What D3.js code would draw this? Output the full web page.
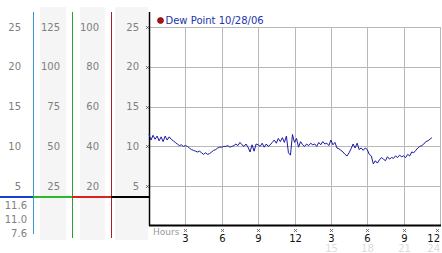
<!DOCTYPE html>
<html><head><meta charset="utf-8">
<script src="https://cdn.jsdelivr.net/npm/d3@7"></script>
<style>body{margin:0;background:#fff}svg{display:block}text{font-family:"DejaVu Sans",Verdana,sans-serif}</style>
</head><body>
<svg id="c" width="442" height="253"></svg>
<script>
// ---- data ----
const seriesName = "Dew Point 10/28/06";
const startHour = 0;
const stepHours = 1/6;
const dewPoint = [
 11.5,10.8,11.4,10.9,11.3,10.7,
 11.2,10.6,11.3,10.8,11.2,10.9,
 10.7,10.5,10.3,10.1,10.2,10.0,
 10.1,10.0,9.8,9.6,9.5,9.4,
 9.3,9.4,9.2,9.0,9.2,9.0,
 9.1,9.3,9.5,9.6,9.8,9.9,
 9.9,10.0,10.0,10.1,9.9,10.0,
 10.1,10.3,10.1,10.5,10.2,10.0,
 10.3,9.9,9.3,10.2,9.4,10.3,
 10.2,10.0,10.4,9.9,10.3,10.0,
 10.2,10.5,10.8,10.4,11.0,10.6,
 11.1,10.5,11.3,9.2,8.9,11.5,
 10.5,11.0,9.9,10.6,10.2,10.0,
 10.3,10.1,10.4,10.2,10.3,10.0,
 10.5,10.2,10.6,10.3,10.4,10.1,
 10.8,10.2,10.5,9.8,9.7,9.5,
 9.3,9.0,8.8,9.2,9.7,10.3,
 9.8,10.4,9.6,9.8,9.5,9.8,
 9.6,9.0,8.8,7.8,8.2,7.9,
 8.3,8.6,8.4,8.2,8.7,8.4,
 8.6,8.5,8.8,8.6,8.9,8.7,
 8.8,8.6,9.0,8.8,9.3,9.2,
 9.5,9.8,10.0,10.1,10.3,10.6,
 10.7,10.9,11.1
];
const yTicks = [25,20,15,10,5];
const col1Labels = ["25","20","15","10","5"];
const col2Labels = ["125","100","75","50","25"];
const col3Labels = ["100","80","60","40","20"];
const col4Labels = ["25","20","15","10","5"];
const statLabels = ["11.6","11.0","7.6"];
const xTicks = [3,6,9,12,15,18,21,24];
const xTickLabels = ["3","6","9","12","3","6","9","12"];
const xFaintLabels = ["","","","","15","18","21","24"];
const xAxisTitle = "Hours";

// ---- drawing ----
const svg = d3.select("#c");
const x = d3.scaleLinear().domain([0,24]).range([149,440]);
const y = d3.scaleLinear().domain([0,25]).range([226,27]);

// gray column backgrounds
const bgs = [[40,26],[80,25],[115,33]];
bgs.forEach(b=>svg.append("rect").attr("x",b[0]).attr("y",7).attr("width",b[1]).attr("height",233).attr("fill","#f5f5f5"));

// column labels
function col(labels, cx, anchor){
  svg.append("g").selectAll("text").data(labels).join("text")
   .attr("x",cx).attr("y",(d,i)=>y(yTicks[i])).attr("dy","0.35em")
   .attr("text-anchor",anchor).attr("font-size",10).attr("fill","#808080").text(d=>d);
}
col(col1Labels,21,"end");
col(col2Labels,60,"end");
col(col3Labels,99,"end");
col(col4Labels,139,"end");
svg.append("g").selectAll("text").data(statLabels).join("text")
  .attr("x",27).attr("y",(d,i)=>205+i*14).attr("dy","0.35em").attr("text-anchor","end")
  .attr("font-size",10).attr("fill","#808080").text(d=>d);

// vertical colored lines
svg.append("line").attr("x1",33.5).attr("x2",33.5).attr("y1",12).attr("y2",234).attr("stroke","#3a9ad0").attr("stroke-width",1);
svg.append("line").attr("x1",72.5).attr("x2",72.5).attr("y1",12).attr("y2",238).attr("stroke","#2f9e2f").attr("stroke-width",1);
svg.append("line").attr("x1",111.5).attr("x2",111.5).attr("y1",12).attr("y2",238).attr("stroke","#a82020").attr("stroke-width",1);

// horizontal colored line
[[0,33,"#1a3fcc"],[33,72,"#2eb82e"],[72,111,"#e02020"],[111,149,"#000"]].forEach(s=>
  svg.append("line").attr("x1",s[0]).attr("x2",s[1]).attr("y1",197).attr("y2",197).attr("stroke",s[2]).attr("stroke-width",2));

// grid
svg.append("g").selectAll("line").data(yTicks).join("line")
  .attr("x1",149).attr("x2",441).attr("y1",d=>Math.round(y(d))+0.5).attr("y2",d=>Math.round(y(d))+0.5)
  .attr("stroke","#b8b8b8");
svg.append("g").selectAll("line").data(xTicks).join("line")
  .attr("x1",d=>Math.round(x(d))+0.5).attr("x2",d=>Math.round(x(d))+0.5).attr("y1",27).attr("y2",226)
  .attr("stroke","#b8b8b8");

// axes
svg.append("line").attr("x1",149.5).attr("x2",149.5).attr("y1",12).attr("y2",226).attr("stroke","#000").attr("stroke-width",1.5);
svg.append("line").attr("x1",149).attr("x2",441).attr("y1",225.5).attr("y2",225.5).attr("stroke","#000").attr("stroke-width",2);

// tiny x marks
function xmark(cx,cy){
  svg.append("path").attr("d",`M${cx-1.5},${cy-1.5}L${cx+1.5},${cy+1.5}M${cx+1.5},${cy-1.5}L${cx-1.5},${cy+1.5}`)
   .attr("stroke","#555").attr("stroke-width",0.8).attr("fill","none");
}
yTicks.forEach(d=>xmark(147.5,Math.round(y(d))+0.5));
xTicks.forEach(d=>xmark(Math.min(Math.round(x(d))+0.5,437.5),230.5));

// x labels
const last = xTicks.length-1;
const lx = (i)=> i===last ? 440 : Math.round(x(xTicks[i]))+0.5;
const la = (i)=> i===last ? "end" : "middle";
svg.append("g").selectAll("text").data(xTickLabels).join("text")
  .attr("x",(d,i)=>lx(i)).attr("y",238.5).attr("dy","0.35em")
  .attr("text-anchor",(d,i)=>la(i)).attr("font-size",10).attr("fill","#111").text(d=>d);
svg.append("g").selectAll("text").data(xFaintLabels).join("text")
  .attr("x",(d,i)=>lx(i)).attr("y",248).attr("dy","0.35em")
  .attr("text-anchor",(d,i)=>la(i)).attr("font-size",10).attr("fill","#dcdcdc").text(d=>d);
svg.append("text").attr("x",153).attr("y",231.5).attr("dy","0.35em").attr("font-size",9)
  .attr("fill","#999").text(xAxisTitle);

// line
const line = d3.line().x((d,i)=>x(startHour+i*stepHours)).y(d=>y(d));
svg.append("path").datum(dewPoint).attr("d",line).attr("fill","none").attr("stroke","#1a1aa0").attr("stroke-width",1);

// legend
svg.append("circle").attr("cx",160.5).attr("cy",20.5).attr("r",3).attr("fill","#b01010").attr("stroke","#500").attr("stroke-width",0.6);
svg.append("text").attr("x",165.5).attr("y",20.5).attr("dy","0.35em").attr("font-size",10).attr("fill","#2233b0").text(seriesName);
</script>
</body></html>
